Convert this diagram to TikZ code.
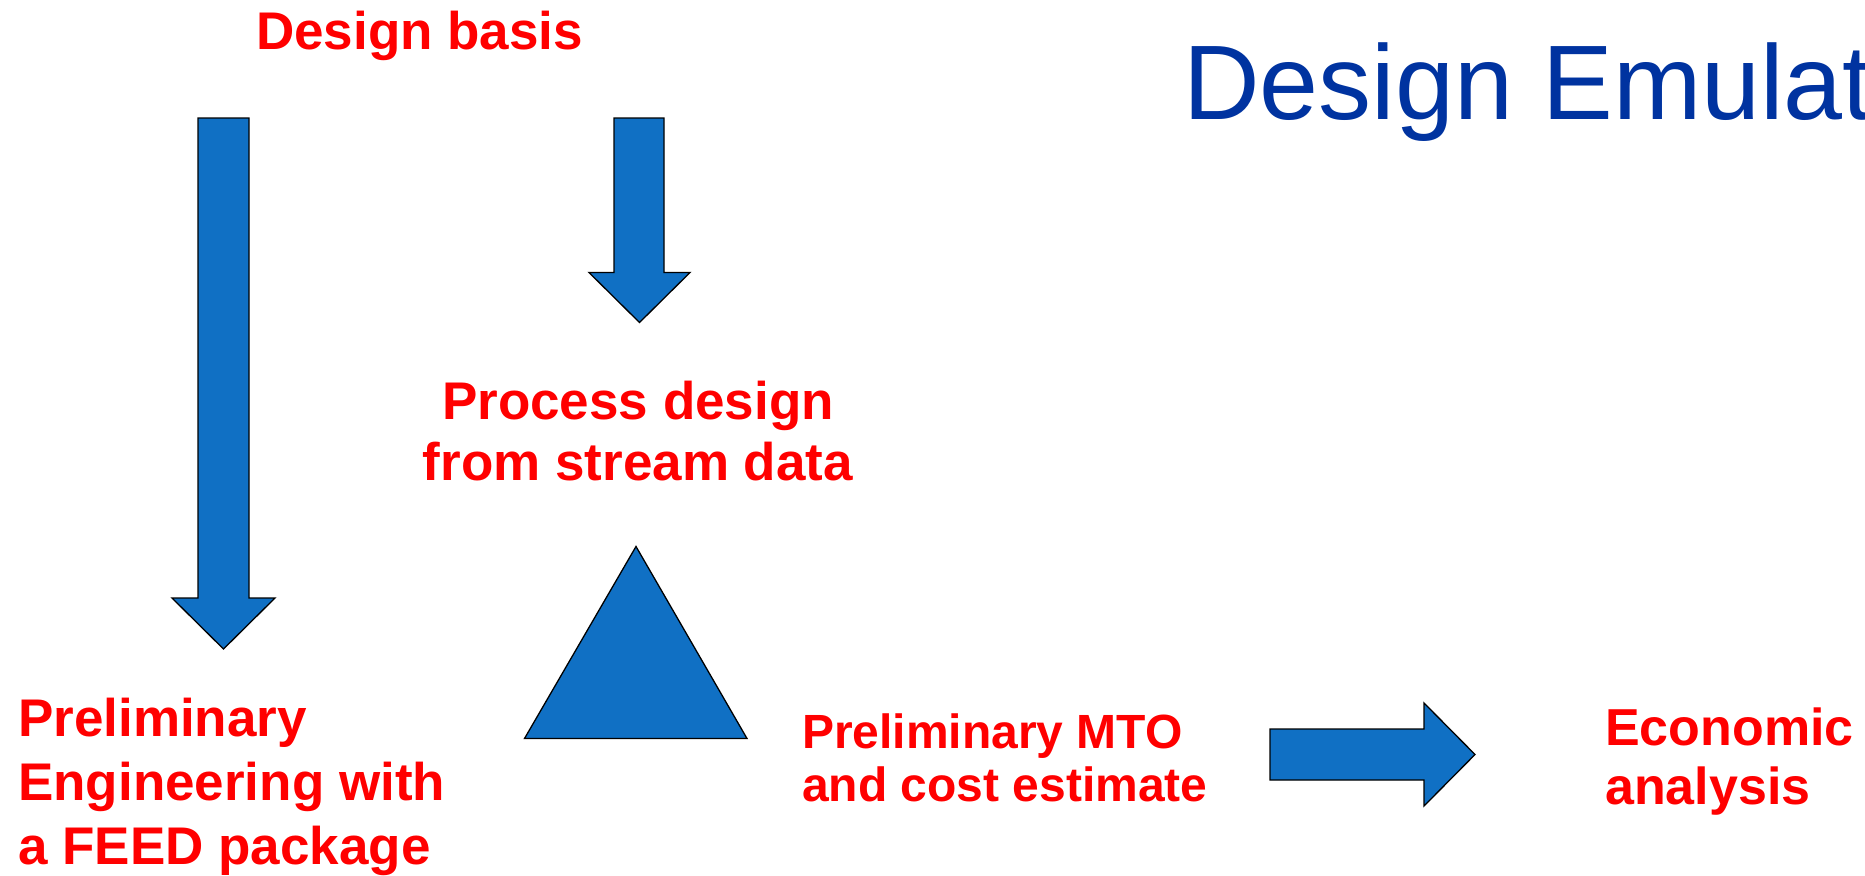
\documentclass[tikz,border=0pt]{standalone}
\usepackage{fontspec}
\setmainfont{Liberation Sans}
\definecolor{arrowblue}{RGB}{16,112,196}
\definecolor{labelred}{RGB}{255,0,0}
\definecolor{titleblue}{RGB}{0,51,160}
\begin{document}
\begin{tikzpicture}[x=1pt,y=-1pt,
  blockshape/.style={fill=arrowblue,draw=black,line width=1.3pt,line join=miter},
  label/.style={inner sep=0pt,text=labelred},
  bigbold/.style={font=\fontsize{53}{64}\selectfont\bfseries}]
\useasboundingbox (0,0) rectangle (1865,875);

% title
\node[anchor=base west,inner sep=0pt,text=titleblue,font=\fontsize{106}{120}\selectfont] (title) at (1183,119.3) {Design Emulat};

% long down arrow (design basis -> preliminary engineering)
\draw[blockshape] (198,118) -- (249,118) -- (249,598) -- (275,598) -- (223.5,649)
  -- (172,598) -- (198,598) -- cycle;
% short down arrow (design basis -> process design)
\draw[blockshape] (614,118) -- (664,118) -- (664,272.5) -- (690,272.5) -- (639.5,322.5)
  -- (589,272.5) -- (614,272.5) -- cycle;
% triangle
\draw[blockshape] (636,546.5) -- (747,738.5) -- (524.5,738.5) -- cycle;
% right arrow (cost estimate -> economic analysis)
\draw[blockshape] (1270,729) -- (1424,729) -- (1424,703) -- (1475,754.5) -- (1424,806)
  -- (1424,780) -- (1270,780) -- cycle;

% labels (multi-line nodes are anchored at the baseline of their last line)
\node[label,bigbold,anchor=base west] (basis) at (256,50) {Design basis};
\node[label,font=\fontsize{53}{60.5}\selectfont\bfseries,anchor=base,align=center] (process) at (638,480) {Process design\\from stream data};
\node[label,bigbold,anchor=base west,align=left] (prelim) at (18,864) {Preliminary\\Engineering with\\a FEED package};
\node[label,font=\fontsize{48}{53.5}\selectfont\bfseries,anchor=base west,align=left] (mto) at (802,801.7) {Preliminary MTO\\and cost estimate};
\node[label,font=\fontsize{52}{59}\selectfont\bfseries,anchor=base west,align=left] (econ) at (1605,804) {Economic\\analysis};
\end{tikzpicture}
\end{document}
